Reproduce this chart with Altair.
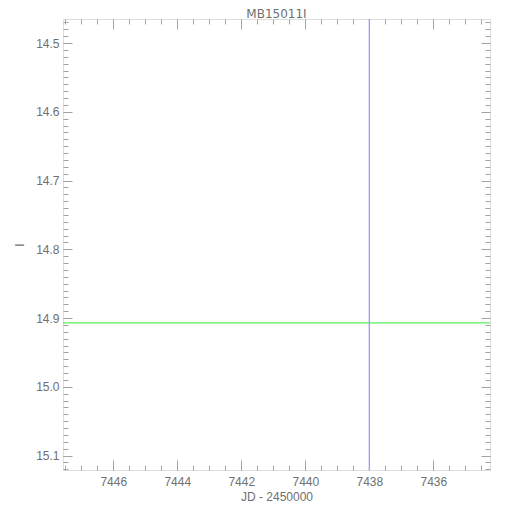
import altair as alt
import pandas as pd

# ---- data ----
title_text = ["MB15011I"]
x_title = "JD - 2450000"
y_title = "I"
x_domain = [7434.23, 7447.57]       # plotted reversed (large JD on the left)
y_domain = [14.465, 15.121]         # plotted reversed (bright at top)
event_jd = [7438.0]                 # blue vertical line
baseline_mag = [14.907]             # green horizontal line
x_major = [7436, 7438, 7440, 7442, 7444, 7446]
x_minor = [round(7434.5 + 0.5 * i, 1) for i in range(27)]
y_major = [14.5, 14.6, 14.7, 14.8, 14.9, 15.0, 15.1]
y_minor = [round(14.47 + 0.01 * i, 2) for i in range(66)]

W, H = 427, 451
GRAY = "#a3a3a3"
TEXT = "#707070"
FONT = "Liberation Sans"
BLUE = "#9a9aff"
GREEN = "#5cee5c"

anchor = pd.DataFrame({"jd": event_jd, "mag": baseline_mag})
vline = pd.DataFrame({"jd": event_jd})
hline = pd.DataFrame({"mag": baseline_mag})
tdf = pd.DataFrame({"t": title_text})

xs = alt.Scale(domain=x_domain, reverse=True, nice=False, zero=False)
ys = alt.Scale(domain=y_domain, reverse=True, nice=False, zero=False)

common = dict(domain=False, grid=False, tickColor=GRAY, tickWidth=1,
              labelFont=FONT, labelFontSize=12, labelColor=TEXT,
              labelOverlap=False, labelFlush=False,
              titleFont=FONT, titleFontSize=12, titleColor=TEXT,
              titleFontWeight="normal")


def axis_layer(x_axis, y_axis):
    return alt.Chart(anchor).mark_point(opacity=0).encode(
        x=alt.X("jd:Q", scale=xs, axis=x_axis),
        y=alt.Y("mag:Q", scale=ys, axis=y_axis),
    )


# major ticks + labels (bottom / left)
l1 = axis_layer(
    alt.Axis(orient="bottom", values=x_major, format="d", tickSize=10, offset=-10,
             labelPadding=6, title=x_title, titlePadding=4, **common),
    alt.Axis(orient="left", values=y_major, format=".1f", tickSize=9, offset=-9,
             labelPadding=4, title=y_title, titlePadding=9, **common),
)
# major ticks (top / right)
l2 = axis_layer(
    alt.Axis(orient="top", values=x_major, labels=False, tickSize=10, offset=-10,
             title=None, **common),
    alt.Axis(orient="right", values=y_major, labels=False, tickSize=9, offset=-9,
             title=None, **common),
)
# minor ticks (bottom / left)
l3 = axis_layer(
    alt.Axis(orient="bottom", values=x_minor, labels=False, tickSize=5, offset=-5,
             title=None, **common),
    alt.Axis(orient="left", values=y_minor, labels=False, tickSize=5, offset=-5,
             title=None, **common),
)
# minor ticks (top / right)
l4 = axis_layer(
    alt.Axis(orient="top", values=x_minor, labels=False, tickSize=5, offset=-5,
             title=None, **common),
    alt.Axis(orient="right", values=y_minor, labels=False, tickSize=5, offset=-5,
             title=None, **common),
)

green = alt.Chart(hline).mark_rule(color=GREEN, strokeWidth=1.3).encode(
    y=alt.Y("mag:Q", scale=ys, axis=None)
)
blue = alt.Chart(vline).mark_rule(color=BLUE, strokeWidth=1.3).encode(
    x=alt.X("jd:Q", scale=xs, axis=None)
)
title_mark = alt.Chart(tdf).mark_text(
    font="DejaVu Sans", fontSize=12, color=TEXT, align="center",
    baseline="alphabetic",
).encode(text="t:N", x=alt.value(W / 2), y=alt.value(-0.8))

chart = (
    alt.layer(green, blue, l1, l2, l3, l4, title_mark)
    .resolve_scale(x="shared", y="shared")
    .resolve_axis(x="independent", y="independent")
    .properties(
        width=W,
        height=H,
        padding={"left": 55, "top": 11, "right": 12, "bottom": 32},
        autosize=alt.AutoSizeParams(type="none"),
    )
    .configure_view(stroke=GRAY, strokeWidth=1)
    .configure(background="white")
)

chart.save("out.html", embed_options={"renderer": "svg", "actions": False})
